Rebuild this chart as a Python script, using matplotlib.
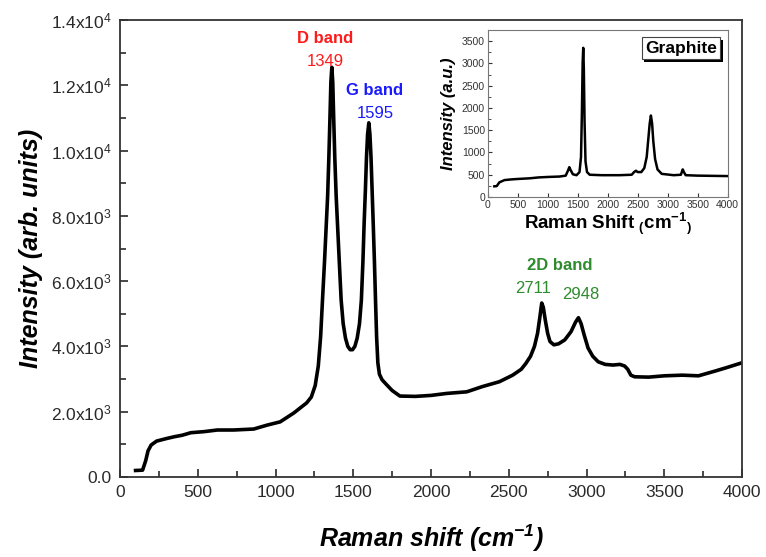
import matplotlib
matplotlib.use("Agg")
import matplotlib.pyplot as plt
from matplotlib.ticker import MultipleLocator, FuncFormatter
from matplotlib.patches import Rectangle

plt.rcParams["font.family"] = ["Liberation Sans", "DejaVu Sans"]
plt.rcParams["mathtext.fontset"] = "custom"
plt.rcParams["mathtext.rm"] = "Liberation Sans"
plt.rcParams["mathtext.it"] = "Liberation Sans:italic"
plt.rcParams["mathtext.bf"] = "Liberation Sans:bold"

# main spectrum
shift = [100, 145, 165, 180, 200, 235, 300, 350, 400, 455, 540, 626, 730, 860,
         946, 1030, 1117, 1200, 1230, 1255, 1275, 1290, 1302, 1315, 1325, 1335,
         1343, 1350, 1356, 1362, 1368, 1374, 1381, 1390, 1400, 1410, 1422, 1435,
         1450, 1465, 1480, 1495, 1510, 1525, 1540, 1552, 1562, 1570, 1578, 1585,
         1592, 1600, 1607, 1614, 1621, 1628, 1636, 1643, 1650, 1658, 1668, 1685,
         1710, 1750, 1800, 1900, 2000, 2100, 2230, 2330, 2440, 2525, 2580, 2610,
         2640, 2665, 2685, 2700, 2712, 2722, 2735, 2750, 2765, 2790, 2820, 2860,
         2900, 2930, 2948, 2965, 2985, 3010, 3040, 3075, 3120, 3170, 3215, 3245,
         3265, 3285, 3310, 3400, 3500, 3615, 3720, 3830, 3900, 4000]
intensity = [200, 210, 500, 800, 980, 1100, 1180, 1235, 1280, 1357, 1390, 1440,
             1440, 1470, 1590, 1690, 1960, 2270, 2450, 2800, 3400, 4300, 5420,
             6600, 7600, 8600, 9800, 11000, 12100, 12550, 12100, 11000, 9800, 8600,
             7600, 6600, 5420, 4700, 4250, 4000, 3900, 3900, 4000, 4250, 4700, 5420,
             6600, 7800, 8800, 9800, 10500, 10850, 10500, 9800, 8800, 7800, 6600,
             5420, 4300, 3500, 3150, 2980, 2850, 2650, 2480, 2470, 2500, 2560, 2610,
             2770, 2920, 3120, 3300, 3480, 3700, 4000, 4400, 4900, 5330, 5200, 4800,
             4400, 4150, 4050, 4080, 4200, 4450, 4750, 4880, 4700, 4350, 3950, 3700,
             3530, 3450, 3430, 3450, 3400, 3300, 3120, 3070, 3060, 3100, 3120, 3100,
             3250, 3350, 3500]

# graphite inset spectrum
g_shift = [110, 150, 195, 280, 390, 500, 700, 850, 1000, 1200, 1300, 1340, 1360,
           1380, 1420, 1480, 1530, 1555, 1570, 1582, 1592, 1602, 1614, 1630, 1655,
           1700, 1900, 2200, 2400, 2440, 2470, 2500, 2560, 2610, 2650, 2680, 2700,
           2720, 2740, 2760, 2790, 2830, 2900, 3100, 3220, 3250, 3270, 3300, 3500,
           4000]
g_intensity = [240, 245, 330, 380, 395, 405, 420, 440, 450, 460, 480, 600, 670,
               610, 510, 490, 560, 900, 1900, 3000, 3350, 2900, 1700, 800, 560,
               500, 490, 490, 500, 560, 590, 560, 560, 650, 900, 1350, 1650, 1830,
               1650, 1250, 850, 620, 520, 490, 500, 620, 560, 490, 480, 470]

labels = [("D band", "1349", "#ff1a1a", 1320, 13300, 12600),
          ("G band", "1595", "#1a1aff", 1640, 11700, 11000)]

fig = plt.figure(figsize=(7.66, 5.57), dpi=100)
ax = fig.add_axes([0.1567, 0.1436, 0.812, 0.8205])
ax.plot(shift, intensity, color="black", lw=2.6, solid_joinstyle="round")
ax.set_xlim(0, 4000)
ax.set_ylim(0, 14000)
ax.xaxis.set_major_locator(MultipleLocator(500))
ax.xaxis.set_minor_locator(MultipleLocator(250))
ax.yaxis.set_major_locator(MultipleLocator(2000))
ax.yaxis.set_minor_locator(MultipleLocator(1000))


def sci(v, pos):
    if v == 0:
        return "0.0"
    exp = len(str(int(v))) - 1
    return r"%.1fx10$^{%d}$" % (v / 10 ** exp, exp)


ax.yaxis.set_major_formatter(FuncFormatter(sci))
ax.tick_params(which="both", direction="in", top=False, right=False,
               labelsize=12.5, colors="#2a2a2a", pad=6)
ax.tick_params(which="major", length=6, width=1.2)
ax.tick_params(which="minor", length=4, width=1.2)
for s in ax.spines.values():
    s.set_linewidth(1.3)
    s.set_color("#333333")
ax.set_xlabel(r"Raman shift (cm$\mathregular{^{-1}}$)", fontsize=18,
              fontweight="bold", style="italic", labelpad=16)
ax.set_ylabel("Intensity (arb. units)", fontsize=18, fontweight="bold",
              style="italic", labelpad=6)

for name, val, col, x, y1, y2 in labels:
    ax.text(x, y1, name, color=col, fontsize=12, fontweight="bold", ha="center")
    ax.text(x, y2, val, color=col, fontsize=12, ha="center")
green = "#2e8b2e"
ax.text(2825, 6350, "2D band", color=green, fontsize=12, fontweight="bold", ha="center")
ax.text(2655, 5650, "2711", color=green, fontsize=12, ha="center")
ax.text(2960, 5450, "2948", color=green, fontsize=12, ha="center")

# inset
ins = fig.add_axes([0.6367, 0.6463, 0.3133, 0.2998])
ins.plot(g_shift, g_intensity, color="black", lw=1.8, solid_joinstyle="round")
ins.set_xlim(0, 4000)
ins.set_ylim(0, 3750)
ins.xaxis.set_major_locator(MultipleLocator(500))
ins.yaxis.set_major_locator(MultipleLocator(500))
ins.yaxis.set_minor_locator(MultipleLocator(250))
ins.tick_params(which="both", direction="in", labelsize=7.5, colors="#333333", pad=2)
ins.tick_params(which="major", length=3)
ins.tick_params(which="minor", length=2)
for s in ins.spines.values():
    s.set_linewidth(0.8)
    s.set_color("#777777")
ins.set_xlabel(r"Raman Shift $\mathregular{_(}$cm$\mathregular{^{-1}}$$\mathregular{_)}$",
               fontsize=13.5, fontweight="bold", labelpad=1)
ins.set_ylabel("Intensity (a.u.)", fontsize=12, fontweight="bold",
               style="italic", labelpad=4)

tag = ins.text(0.955, 0.89, "Graphite", transform=ins.transAxes, ha="right",
               va="center", fontsize=12.5, fontweight="bold", zorder=5,
               bbox=dict(boxstyle="square,pad=0.2", fc="white", ec="#444444", lw=0.8))
# drop shadow behind the label box
fig.canvas.draw()
bb = tag.get_bbox_patch().get_window_extent()
fig.patches.append(Rectangle((bb.x0 + 2.5, bb.y0 - 2.5), bb.width, bb.height,
                             transform=None, fc="black", ec="none", zorder=1))
ins.set_zorder(2)
ins.patch.set_alpha(0)
fig.patches[-1].set_zorder(1.5)

fig.savefig("out.png", dpi=100)
